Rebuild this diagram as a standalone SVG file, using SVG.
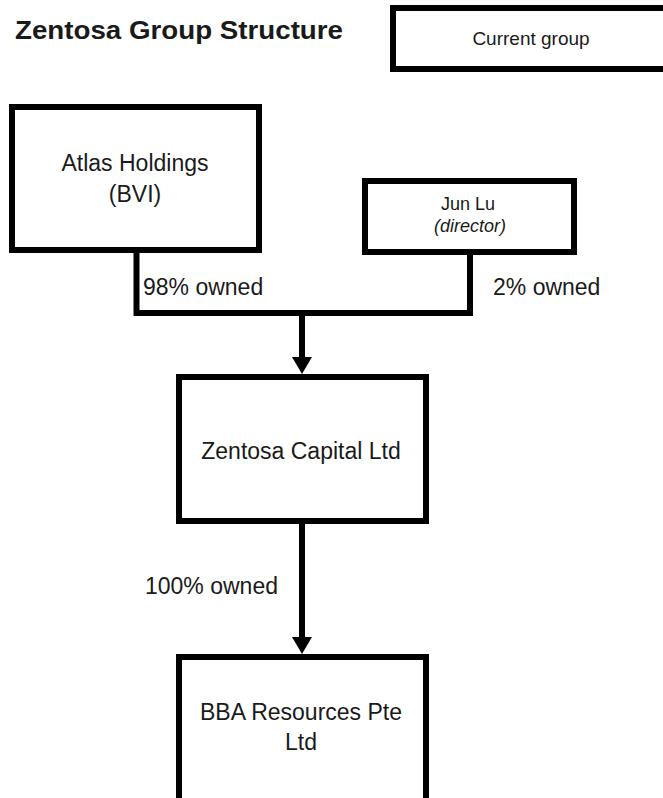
<svg xmlns="http://www.w3.org/2000/svg" width="663" height="798" viewBox="0 0 663 798">
  <style>
    .box { fill: #ffffff; stroke: #000000; stroke-width: 6; }
    .lbl { font-family: "Liberation Sans", Arial, sans-serif; fill: #1a1a1a; }
    .conn { fill: none; stroke: #000000; stroke-width: 6; stroke-linejoin: miter; stroke-linecap: square; }
    .head { fill: #000000; stroke: none; }
  </style>
  <rect x="0" y="0" width="663" height="798" fill="#ffffff"/>

  <text class="lbl" x="15" y="39" font-size="26" font-weight="bold" fill="#000000" textLength="328" lengthAdjust="spacingAndGlyphs">Zentosa Group Structure</text>

  <g id="legend">
    <rect class="box" x="393" y="8" width="280" height="61"/>
    <text class="lbl" x="531" y="45" font-size="19" text-anchor="middle">Current group</text>
  </g>

  <g id="atlas">
    <rect class="box" x="12" y="107" width="247" height="143"/>
    <text class="lbl" x="135" y="171" font-size="23" text-anchor="middle">Atlas Holdings</text>
    <text class="lbl" x="135" y="202" font-size="23" text-anchor="middle">(BVI)</text>
  </g>

  <g id="junlu">
    <rect class="box" x="365" y="181" width="209" height="71"/>
    <text class="lbl" x="468" y="210" font-size="18" text-anchor="middle">Jun Lu</text>
    <text class="lbl" x="470" y="232" font-size="18" font-style="italic" text-anchor="middle">(director)</text>
  </g>

  <g id="zentosa">
    <rect class="box" x="179" y="377" width="247" height="144"/>
    <text class="lbl" x="301" y="459" font-size="23" text-anchor="middle">Zentosa Capital Ltd</text>
  </g>

  <g id="bba">
    <rect class="box" x="179" y="657" width="247" height="200"/>
    <text class="lbl" x="301" y="720" font-size="23" text-anchor="middle">BBA Resources Pte</text>
    <text class="lbl" x="301" y="750" font-size="23" text-anchor="middle">Ltd</text>
  </g>

  <g id="connectors">
    <path class="conn" d="M136.5 253 V313 H470 V255"/>
    <path class="conn" d="M302 313 V358"/>
    <polygon class="head" points="292,357 312,357 302,374"/>
    <path class="conn" d="M302 524 V638"/>
    <polygon class="head" points="292,637 312,637 302,654"/>
    <text class="lbl" x="143" y="295" font-size="23">98% owned</text>
    <text class="lbl" x="493" y="295" font-size="23">2% owned</text>
    <text class="lbl" x="145" y="594" font-size="23">100% owned</text>
  </g>
</svg>
